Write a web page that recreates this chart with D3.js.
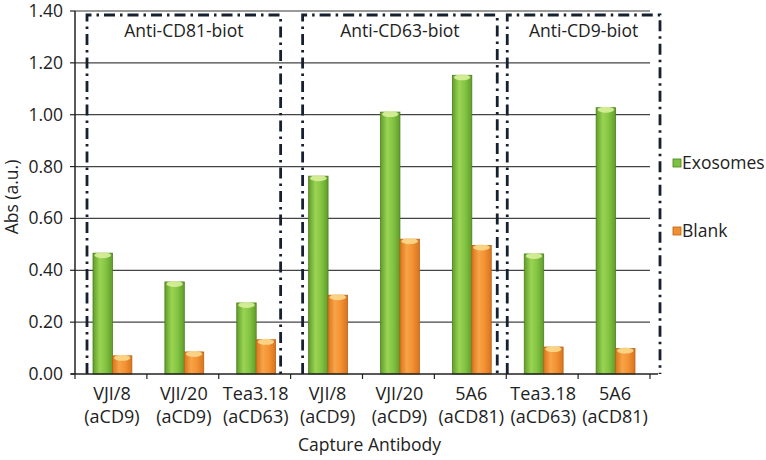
<!DOCTYPE html>
<html>
<head>
<meta charset="utf-8">
<script src="https://cdn.jsdelivr.net/npm/d3@7"></script>
<style>
  body { margin: 0; background: #fff; }
  text { font-family: "Open Sans", "Noto Sans", sans-serif; fill: #222; }
</style>
</head>
<body>
<svg id="chart" width="766" height="460"></svg>
<script>
// Data
const categories = ["VJI/8|(aCD9)", "VJI/20|(aCD9)", "Tea3.18|(aCD63)", "VJI/8|(aCD9)",
                    "VJI/20|(aCD9)", "5A6|(aCD81)", "Tea3.18|(aCD63)", "5A6|(aCD81)"];
const exosomes = [0.466, 0.355, 0.274, 0.763, 1.010, 1.152, 0.463, 1.027];
const blank    = [0.070, 0.085, 0.132, 0.304, 0.520, 0.496, 0.104, 0.098];
const seriesNames = ["Exosomes", "Blank"];
const yTicks = [0, 0.2, 0.4, 0.6, 0.8, 1.0, 1.2, 1.4];
const groupLabels = ["Anti-CD81-biot", "Anti-CD63-biot", "Anti-CD9-biot"];
const groupFirst = [0, 3, 6];
const groupLast  = [2, 5, 7];

// Layout
const margin = { left: 75, right: 116, top: 11, bottom: 86 };
const W = 766, H = 460;
const plotW = W - margin.left - margin.right;
const plotH = H - margin.top - margin.bottom;
// pixel offsets of dash-dot boxes relative to the band edges
const boxPad = [[12, -10], [12, -9], [1, 10]];

const svg = d3.select('#chart');
const defs = svg.append('defs');

function cylGrad(id, dark, mid, light) {
    const g = defs.append('linearGradient').attr('id', id)
        .attr('x1', '0%').attr('x2', '100%').attr('y1', '0%').attr('y2', '0%');
    g.append('stop').attr('offset', '0%').attr('stop-color', dark);
    g.append('stop').attr('offset', '35%').attr('stop-color', light);
    g.append('stop').attr('offset', '65%').attr('stop-color', mid);
    g.append('stop').attr('offset', '100%').attr('stop-color', dark);
}
cylGrad('gGreen', '#5f9e2a', '#84c443', '#9bd454');
cylGrad('gOrange', '#d9741c', '#f39234', '#f7a447');

const colors = {
    Exosomes: { fill: 'url(#gGreen)', stroke: '#4c7f1f', top: '#d8ef9a', sw: '#7cc23f' },
    Blank:    { fill: 'url(#gOrange)', stroke: '#b8621a', top: '#fbd98b', sw: '#f0902e' }
};

const g = svg.append('g').attr('transform', `translate(${margin.left},${margin.top})`);

const x = d3.scaleBand().domain(d3.range(categories.length)).range([0, plotW]);
const y = d3.scaleLinear().domain([0, 1.4]).range([plotH, 0]);
const xs = d3.scaleBand().domain(seriesNames).range([0, x.bandwidth()]).paddingInner(0).paddingOuter(0.85);

// gridlines
g.append('g').selectAll('line').data(yTicks.slice(1)).enter().append('line')
    .attr('x1', 0).attr('x2', plotW)
    .attr('y1', d => y(d)).attr('y2', d => y(d))
    .attr('stroke', (d, i) => i === yTicks.length - 2 ? '#9a9a9a' : '#444')
    .attr('stroke-width', (d, i) => i === yTicks.length - 2 ? 2 : 1.2);

// group dash-dot boxes
const boxTop = 4;
groupLabels.forEach((lab, i) => {
    const x0 = x(groupFirst[i]) + boxPad[i][0];
    const x1 = x(groupLast[i]) + x.bandwidth() + boxPad[i][1];
    g.append('path')
        .attr('d', `M${x0},${plotH}V${boxTop}H${x1}V${plotH}`)
        .attr('fill', 'none').attr('stroke', '#16202e').attr('stroke-width', 2.8)
        .attr('stroke-dasharray', '11,5,2.5,5');
    g.append('text').attr('x', (x0 + x1) / 2).attr('y', 26)
        .attr('text-anchor', 'middle').attr('font-size', 17.5).text(lab);
});

// bars
const series = [exosomes, blank];
seriesNames.forEach((name, si) => {
    const c = colors[name];
    const bg = g.append('g');
    series[si].forEach((v, i) => {
        const bx = x(i) + xs(name) + 1.5;
        const bw = xs.bandwidth();
        bg.append('rect').attr('x', bx).attr('y', y(v)).attr('width', bw).attr('height', y(0) - y(v))
            .attr('fill', c.fill).attr('stroke', c.stroke).attr('stroke-width', 0.8);
        bg.append('ellipse').attr('cx', bx + bw / 2).attr('cy', y(v) + 2).attr('rx', bw / 2 - 1.5).attr('ry', 3)
            .attr('fill', c.top).attr('opacity', 0.9);
    });
});

// y axis
g.append('line').attr('x1', 0).attr('x2', 0).attr('y1', 0).attr('y2', plotH)
    .attr('stroke', '#222').attr('stroke-width', 1.5);
g.append('g').selectAll('text').data(yTicks).enter().append('text')
    .attr('x', -12).attr('y', d => y(d) + 6)
    .attr('text-anchor', 'end').attr('font-size', 17.5)
    .text(d => d.toFixed(2));
g.append('g').selectAll('line').data(yTicks).enter().append('line')
    .attr('x1', -5).attr('x2', 0).attr('y1', d => y(d)).attr('y2', d => y(d))
    .attr('stroke', '#222').attr('stroke-width', 1.2);

// x axis
g.append('line').attr('x1', -4).attr('x2', plotW + 8).attr('y1', plotH).attr('y2', plotH)
    .attr('stroke', '#222').attr('stroke-width', 1.6);
g.append('g').selectAll('line').data(d3.range(categories.length + 1)).enter().append('line')
    .attr('x1', d => d * x.bandwidth()).attr('x2', d => d * x.bandwidth())
    .attr('y1', plotH).attr('y2', plotH + 5)
    .attr('stroke', '#222').attr('stroke-width', 1.2);

const xl = g.append('g').selectAll('text').data(categories).enter().append('text')
    .attr('text-anchor', 'middle').attr('font-size', 18);
xl.append('tspan').attr('x', (d, i) => x(i) + x.bandwidth() / 2 + 1).attr('y', plotH + 26)
    .text(d => d.split('|')[0]);
xl.append('tspan').attr('x', (d, i) => x(i) + x.bandwidth() / 2 + 1).attr('y', plotH + 49)
    .text(d => d.split('|')[1]);

// axis titles
svg.append('text').attr('x', margin.left + plotW / 2 + 7).attr('y', 451)
    .attr('text-anchor', 'middle').attr('font-size', 17.5).text('Capture Antibody');
svg.append('text').attr('transform', 'translate(18,197) rotate(-90)')
    .attr('text-anchor', 'middle').attr('font-size', 17.5).text('Abs (a.u.)');

// legend
const legY = [163, 231];
seriesNames.forEach((name, i) => {
    svg.append('rect').attr('x', 673).attr('y', legY[i] - 4).attr('width', 8).attr('height', 8)
        .attr('fill', colors[name].sw).attr('stroke', colors[name].stroke).attr('stroke-width', 0.8);
    svg.append('text').attr('x', 682).attr('y', legY[i] + 6)
        .attr('font-size', 17.5).text(name);
});
</script>
</body>
</html>
